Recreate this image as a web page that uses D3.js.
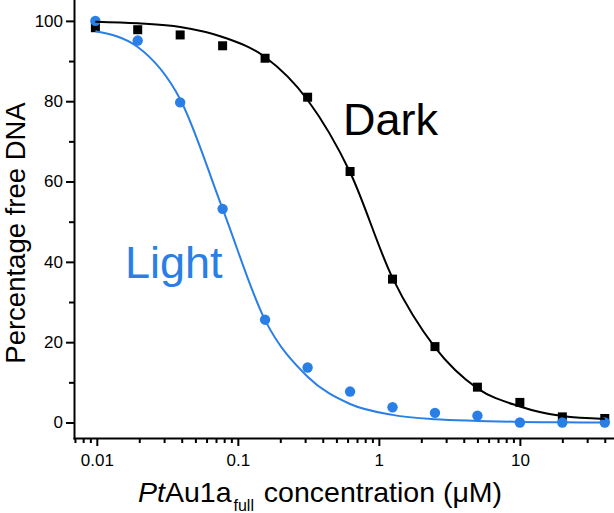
<!DOCTYPE html>
<html>
<head>
<meta charset="utf-8">
<script src="https://cdn.jsdelivr.net/npm/d3@7/dist/d3.min.js"></script>
<style>
  html, body { margin: 0; padding: 0; background: #fff; }
  svg { display: block; font-family: Arial, "Liberation Sans", Helvetica, sans-serif; }
</style>
</head>
<body>
<svg id="chart" width="614" height="513"></svg>
<script>
// ---- data ----
const concentrations = [0.00977, 0.0195, 0.039, 0.078, 0.156, 0.3125, 0.625, 1.25, 2.5, 5, 10, 20, 40];
const darkValues  = [98.3, 97.8, 96.5, 93.8, 90.7, 81.0, 62.5, 35.7, 18.9, 8.8, 5.0, 1.4, 1.0];
const lightValues = [100, 95.1, 79.7, 53.2, 25.6, 13.7, 7.7, 3.8, 2.4, 1.7, 0, 0, 0];

// fitted curves
const darkFitX  = [0.00977, 0.0195, 0.039, 0.078, 0.156, 0.3125, 0.625, 1.25, 2.5, 5, 10, 20, 40];
const darkFitY  = [99.8, 99.4, 98.5, 96.0, 91.0, 80.3, 62.3, 36.0, 18.7, 8.5, 4.0, 1.6, 0.9];
const lightFitX = [0.00977, 0.0195, 0.039, 0.078, 0.156, 0.3125, 0.625, 1.25, 2.5, 5, 10, 20, 40];
const lightFitY = [97.4, 93.5, 80.5, 53.2, 25.5, 11.4, 4.6, 1.9, 0.8, 0.4, 0.15, 0.05, 0];

const xMajorTicks = [0.01, 0.1, 1, 10];
const xMajorLabels = ["0.01", "0.1", "1", "10"];
const xMinorTicks = [0.007, 0.008, 0.009,
  0.02, 0.03, 0.04, 0.05, 0.06, 0.07, 0.08, 0.09,
  0.2, 0.3, 0.4, 0.5, 0.6, 0.7, 0.8, 0.9,
  2, 3, 4, 5, 6, 7, 8, 9,
  20, 30, 40];
const yMajorTicks = [0, 20, 40, 60, 80, 100];
const yMinorTicks = [10, 30, 50, 70, 90];

const seriesLabels = ["Dark", "Light"];

// ---- drawing ----
const svg = d3.select("#chart");
const blue = "#2a7fe6";

const x = d3.scaleLog().domain([0.00689, 46.5]).range([74, 614]);
const y = d3.scaleLinear().domain([-3.86, 105.2]).range([438, 0]);

// axes
const xAxisG = svg.append("g").attr("transform", "translate(0,438)");
xAxisG.call(d3.axisBottom(x).tickValues(xMajorTicks)
  .tickFormat((d, i) => xMajorLabels[i]).tickSize(8).tickSizeOuter(0).tickPadding(8));
const xMinorG = svg.append("g").attr("transform", "translate(0,438)");
xMinorG.call(d3.axisBottom(x).tickValues(xMinorTicks).tickFormat("").tickSize(5).tickSizeOuter(0));
xMinorG.select(".domain").remove();

const yAxisG = svg.append("g").attr("transform", "translate(74,0)");
yAxisG.call(d3.axisLeft(y).tickValues(yMajorTicks).tickSize(8).tickSizeOuter(0).tickPadding(3));
const yMinorG = svg.append("g").attr("transform", "translate(74,0)");
yMinorG.call(d3.axisLeft(y).tickValues(yMinorTicks).tickFormat("").tickSize(5).tickSizeOuter(0));
yMinorG.select(".domain").remove();

svg.selectAll(".domain").attr("stroke", "#000").attr("stroke-width", 2).attr("stroke-linecap", "square");
svg.selectAll(".tick line").attr("stroke", "#000").attr("stroke-width", 2);
svg.selectAll(".tick text").attr("font-size", 17).attr("fill", "#000")
  .attr("font-family", "Arial, 'Liberation Sans', sans-serif");

// curves
const line = d3.line().x(d => x(d[0])).y(d => y(d[1])).curve(d3.curveMonotoneX);

// markers
svg.append("g").selectAll("rect").data(concentrations.map((c, i) => [c, darkValues[i]]))
  .join("rect")
  .attr("x", d => x(d[0]) - 4.5).attr("y", d => y(d[1]) - 4.5)
  .attr("width", 9).attr("height", 9).attr("fill", "#000");

svg.append("g").selectAll("circle").data(concentrations.map((c, i) => [c, lightValues[i]]))
  .join("circle")
  .attr("cx", d => x(d[0])).attr("cy", d => y(d[1])).attr("r", 5.2).attr("fill", blue);

svg.append("path").datum(darkFitX.map((c, i) => [c, darkFitY[i]]))
  .attr("d", line).attr("fill", "none").attr("stroke", "#000").attr("stroke-width", 2);
svg.append("path").datum(lightFitX.map((c, i) => [c, lightFitY[i]]))
  .attr("d", line).attr("fill", "none").attr("stroke", blue).attr("stroke-width", 2);

// series labels
svg.append("text").attr("x", 343).attr("y", 135).attr("font-size", 45).attr("fill", "#000")
  .text(seriesLabels[0]);
svg.append("text").attr("x", 125).attr("y", 278).attr("font-size", 45).attr("fill", blue)
  .text(seriesLabels[1]);

// axis titles
const xt = svg.append("text").attr("x", 138).attr("y", 502).attr("font-size", 28.5).attr("fill", "#000");
xt.append("tspan").attr("font-style", "italic").text("Pt");
xt.append("tspan").text("Au1a");
xt.append("tspan").attr("font-size", 16).attr("dy", 9).attr("dx", 2).text("full");
xt.append("tspan").attr("dy", -9).attr("dx", 2).text(" concentration (μM)");

svg.append("text")
  .attr("transform", "translate(25,233) rotate(-90)")
  .attr("text-anchor", "middle").attr("font-size", 27.5).attr("fill", "#000")
  .text("Percentage free DNA");
</script>
</body>
</html>
